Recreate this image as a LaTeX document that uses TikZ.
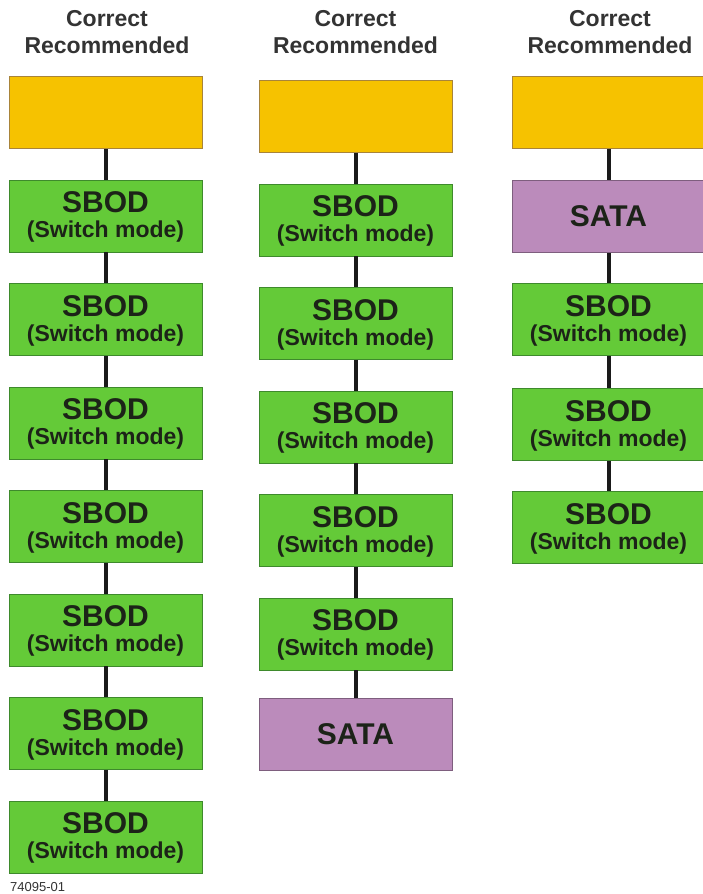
\documentclass[tikz,border=0pt]{standalone}
\usepackage{fontspec}
\setmainfont{Liberation Sans}
\definecolor{orng}{HTML}{F6C200}
\definecolor{orngb}{HTML}{A8843A}
\definecolor{grn}{HTML}{64CA38}
\definecolor{grnb}{HTML}{3E8A2C}
\definecolor{prp}{HTML}{BB8BBB}
\definecolor{prpb}{HTML}{7E5E7E}
\definecolor{wirec}{HTML}{1A1A1A}
\definecolor{txt}{HTML}{1C2318}
\definecolor{headc}{HTML}{333333}
\begin{document}
\begin{tikzpicture}[x=1pt,y=-1pt,
  box/.style={draw, line width=0.8pt, minimum width=193pt, minimum height=72pt, inner sep=0pt, anchor=north west},
  ctrl/.style={box, fill=orng, draw=orngb},
  sbod/.style={box, fill=grn, draw=grnb},
  sata/.style={box, fill=prp, draw=prpb},
  wire/.style={line width=4.5pt, draw=wirec},
  big/.style={font=\bfseries\fontsize{30}{30}\selectfont, text=txt, anchor=base, inner sep=0pt},
  small/.style={font=\bfseries\fontsize{23}{23}\selectfont, text=txt, anchor=base, inner sep=0pt},
  head/.style={font=\bfseries\fontsize{23}{23}\selectfont, text=headc, anchor=base, inner sep=0pt}]
\useasboundingbox (0,0) rectangle (702,894);

% headers
\node[head] (h1a) at (107,27) {Correct};
\node[head] (h1b) at (107,53) {Recommended};
\node[head] (h2a) at (355.5,27) {Correct};
\node[head] (h2b) at (355.5,53) {Recommended};
\node[head] (h3a) at (610,27) {Correct};
\node[head] (h3b) at (610,53) {Recommended};

% column 1
\node[ctrl] (c1b0) at (9,76) {};
\foreach \i/\t in {1/179.5,2/283,3/386.5,4/490,5/593.5,6/697,7/800.5}{
  \node[sbod] (c1b\i) at (9,\t) {};
  \node[big] (c1s\i) at (105.5,\t+33) {SBOD};
  \node[small] (c1m\i) at (105.5,\t+58) {(Switch mode)};
}
\foreach \j [count=\i] in {0,...,6}
  \draw[wire] (c1b\j.south) -- (c1b\i.north);

% column 2
\node[ctrl] (c2b0) at (259,80) {};
\foreach \i/\t in {1/183.5,2/287,3/390.5,4/494,5/597.5}{
  \node[sbod] (c2b\i) at (259,\t) {};
  \node[big] (c2s\i) at (355.5,\t+33) {SBOD};
  \node[small] (c2m\i) at (355.5,\t+58) {(Switch mode)};
}
\node[sata] (c2b6) at (259,698) {};
\node[big] (c2s6) at (355.5,698+46.5) {SATA};
\foreach \j [count=\i] in {0,...,5}
  \draw[wire] (c2b\j.south) -- (c2b\i.north);

% column 3
\node[ctrl] (c3b0) at (512,76) {};
\node[sata] (c3b1) at (512,180) {};
\node[big] (c3s1) at (608.5,180+46.5) {SATA};
\foreach \i/\t in {2/283,3/388,4/491}{
  \node[sbod] (c3b\i) at (512,\t) {};
  \node[big] (c3s\i) at (608.5,\t+33) {SBOD};
  \node[small] (c3m\i) at (608.5,\t+58) {(Switch mode)};
}
\foreach \j [count=\i from 1] in {0,...,3}
  \draw[wire] (c3b\j.south) -- (c3b\i.north);

% figure number
\node[anchor=base west, font=\fontsize{13}{13}\selectfont, text=headc, inner sep=0pt] (fig) at (10,891) {74095-01};
\end{tikzpicture}
\end{document}
